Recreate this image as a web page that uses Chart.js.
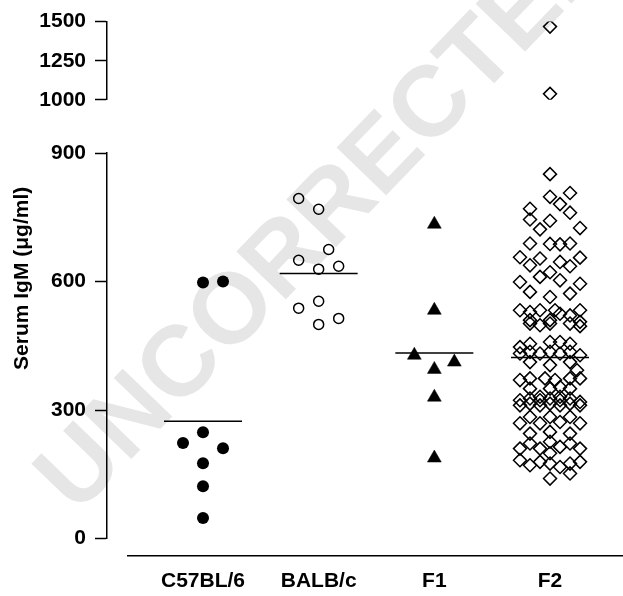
<!DOCTYPE html>
<html><head><meta charset="utf-8">
<script src="https://cdn.jsdelivr.net/npm/chart.js@4/dist/chart.umd.min.js"></script>
<style>
html,body{margin:0;padding:0;background:#fff;}
#wrap{position:relative;width:623px;height:596px;overflow:hidden;}
#wm{position:absolute;left:322px;top:212px;transform:translate(-50%,-50%) rotate(-46deg);font:bold 100px "Liberation Sans",Arial,sans-serif;color:#e6e6e6;white-space:nowrap;z-index:0;}
#c{position:absolute;left:0;top:0;z-index:1;}
</style></head><body>
<div id="wrap"><div id="wm">UNCORRECTED</div><canvas id="c" width="623" height="596"></canvas></div>
<script>
// ---- data ----
const groups = ['C57BL/6', 'BALB/c', 'F1', 'F2'];
const c57Values = [598, 600, 248, 223, 211, 176, 122, 48];
const c57Jitter = [0, 2, 0, -2, 2, 0, 0, 0];
const balbValues = [794, 769, 675, 650, 629, 636, 538, 554, 514, 500];
const balbJitter = [-2, 0, 1, -2, 0, 2, -2, 0, 2, 0];
const f1Values = [734, 533, 428, 412, 395, 330, 188];
const f1Jitter = [0, 0, -2, 2, 0, 0, 0];
const f2Values = [1468, 1038,
  851, 807, 798, 781, 770, 761, 745, 742, 722, 725,
  689, 688, 687, 689, 657, 654, 646, 656, 638, 636,
  622, 611, 603, 599, 595, 576, 564, 572,
  533, 529, 533, 533, 525, 521, 533, 510, 510, 506,
  502, 498, 502, 502, 496, 459, 455, 459, 455,
  447, 432, 436, 432, 436, 432, 436, 428, 412, 405, 412, 393,
  370, 374, 374, 370, 374, 374, 350, 350, 354, 350, 331, 331,
  323, 327, 323, 327, 323, 327, 319, 311, 315, 311, 315, 311, 315, 311,
  284, 284, 284, 269, 269, 272, 269, 245, 249, 245,
  222, 210, 210, 226, 214, 222, 210, 199,
  183, 171, 179, 175, 167, 175, 179, 152, 140];
const f2Jitter = [0, 0,
  0, 2, 0, 1, -2, 2, -2, 0, -1, 3,
  -2, 0, 1, 2, -3, -1, 1, 3, -2, 2,
  0, -1, 1, -3, 3, -2, 0, 2,
  -3, -2, -1, 0.5, 1, 2, 3, -2, 0, 3,
  -2, -1, 0, 2, 3, 0, -2, 1, 2,
  -3, -3, -2, -1, 0, 1, 2, 3, -2, 0, 2, 2.7,
  -3, -2, -0.5, 0.5, 2, 3, -2, 0, 1, 2, -1, 1,
  -3, -2, -1, 0, 1, 2, 3, -3, -2, -1, 0, 1, 2, 3,
  -2, 0, 2, -3, -1, 1, 3, -2, 0, 2,
  -2, -3, -1, 0, 1, 2, 3, 0,
  -3, -2, -1, 0, 1, 2, 3, 2, 0];
const groupMeans = [274, 619, 433, 423];
const lowTicks = [0, 300, 600, 900];
const highTicks = [1000, 1250, 1500];
const yTitle = 'Serum IgM (\u03BCg/ml)';

// ---- style / layout ----
const JIT = 0.0865;
const FONT = {family: '"Liberation Sans", Arial, Helvetica, sans-serif', weight: 'bold', size: 21};
const BREAK_LOW = lowTicks[lowTicks.length - 1];

function pts(gi, vals, jit, keep) {
  const out = [];
  vals.forEach((v, i) => { if (keep(v)) out.push({x: gi + 1 + jit[i] * JIT, y: v}); });
  return out;
}
const isLow = v => v <= BREAK_LOW;
const isHigh = v => v > BREAK_LOW;

const base = {showLine: false, xAxisID: 'x'};
const datasets = [
  Object.assign({}, base, {yAxisID: 'yLow', data: groupMeans.map((m, i) => ({x: i + 1, y: m})),
    pointStyle: 'line', pointRadius: 39, borderColor: '#000', borderWidth: 1.5, backgroundColor: '#000'}),
  Object.assign({}, base, {yAxisID: 'yLow', data: pts(0, c57Values, c57Jitter, isLow),
    pointStyle: 'circle', pointRadius: 6, backgroundColor: '#000', borderColor: '#000', borderWidth: 0}),
  Object.assign({}, base, {yAxisID: 'yLow', data: pts(1, balbValues, balbJitter, isLow),
    pointStyle: 'circle', pointRadius: 5, backgroundColor: 'rgba(0,0,0,0)', borderColor: '#000', borderWidth: 1.5}),
  Object.assign({}, base, {yAxisID: 'yLow', data: pts(2, f1Values, f1Jitter, isLow),
    pointStyle: 'triangle', pointRadius: 8, backgroundColor: '#000', borderColor: '#000', borderWidth: 0.5}),
  Object.assign({}, base, {yAxisID: 'yLow', data: pts(3, f2Values, f2Jitter, isLow),
    pointStyle: 'rectRot', pointRadius: 6.5, backgroundColor: 'rgba(0,0,0,0)', borderColor: '#000', borderWidth: 1.5}),
  Object.assign({}, base, {yAxisID: 'yHigh', data: pts(3, f2Values, f2Jitter, isHigh),
    pointStyle: 'rectRot', pointRadius: 6.5, backgroundColor: 'rgba(0,0,0,0)', borderColor: '#000', borderWidth: 1.5})
];

const hidden = {ticks: {display: false}, grid: {display: false, drawTicks: false}, border: {display: false}};
const Y_W = 68, TITLE_W = 39;
function valueAxis(min, max, ticks, weightPx) {
  return {
    type: 'linear', position: 'left', stack: 'v', stackWeight: weightPx, weight: 10, min, max,
    afterBuildTicks: s => { s.ticks = ticks.map(v => ({value: v})); },
    afterFit: s => { s.width = Y_W; },
    ticks: {font: FONT, color: '#000', padding: 9, autoSkip: false, callback: v => String(v)},
    grid: {display: true, drawOnChartArea: false, drawTicks: true, tickLength: 12, tickWidth: 1.5, tickColor: '#000'},
    border: {display: true, color: '#000', width: 1.5}
  };
}
function spacerAxis(extra, width) {
  return Object.assign({type: 'linear', position: 'left', afterFit: s => { s.width = width; }}, extra, hidden);
}

new Chart(document.getElementById('c'), {
  type: 'scatter',
  data: {datasets},
  options: {
    responsive: false, devicePixelRatio: 1, animation: false, events: [],
    layout: {autoPadding: false, padding: {top: 21, left: 0, right: 0, bottom: 0}},
    plugins: {legend: {display: false}, tooltip: {enabled: false}},
    scales: {
      x: {
        type: 'linear', position: 'bottom', min: 0.3516, max: 4.631,
        afterBuildTicks: s => { s.ticks = groups.map((g, i) => ({value: i + 1})); },
        afterFit: s => { s.height = 40; },
        ticks: {font: FONT, color: '#000', padding: 13, autoSkip: false, maxRotation: 0, callback: (v, i) => groups[i]},
        grid: {display: false, drawTicks: false},
        border: {display: true, color: '#000', width: 1.5}
      },
      yTitleGap: spacerAxis({stack: 't', stackWeight: 21, weight: 20}, TITLE_W),
      yTitle: Object.assign(spacerAxis({stack: 't', stackWeight: 514, weight: 20}, TITLE_W),
        {title: {display: true, text: yTitle, font: FONT, color: '#000', padding: {top: 10, bottom: 0}}}),
      yBottom: spacerAxis({stack: 'v', stackWeight: 17.5, weight: 10}, Y_W),
      yLow: valueAxis(lowTicks[0], lowTicks[lowTicks.length - 1], lowTicks, 385.8),
      yGap: spacerAxis({stack: 'v', stackWeight: 53.4, weight: 10}, Y_W),
      yHigh: valueAxis(highTicks[0], highTicks[highTicks.length - 1], highTicks, 78.3),
      spacer: spacerAxis({weight: 0}, 21)
    }
  }
});
</script>
</body></html>
